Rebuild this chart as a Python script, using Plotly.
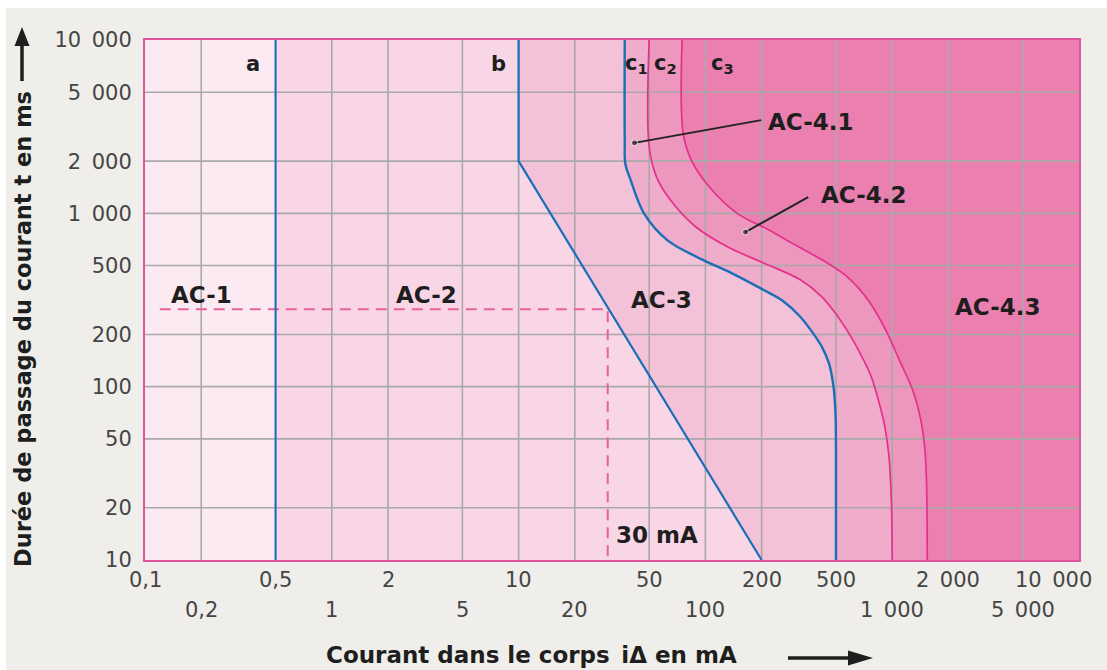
import numpy as np
import plotly.graph_objects as go

# ---- axis ticks -----------------------------------------------------------
x_ticks = [0.1, 0.2, 0.5, 1, 2, 5, 10, 20, 50, 100, 200, 500, 1000, 2000, 5000, 10000]
x_row1_vals = [0.1, 0.5, 2, 10, 50, 200, 500, 2000, 10000]
x_row1_text = ["0,1", "0,5", "2", "10", "50", "200", "500", "2\u2002000", "10\u2002000"]
x_row2_vals = [0.2, 1, 5, 20, 100, 1000, 5000]
x_row2_text = ["0,2", "1", "5", "20", "100", "1\u2002000", "5\u2002000"]
y_ticks = [10, 20, 50, 100, 200, 500, 1000, 2000, 5000, 10000]
y_text = ["10", "20", "50", "100", "200", "500", "1\u2002000", "2\u2002000", "5\u2002000", "10\u2002000"]

# ---- time/current curves (current in mA, duration in ms) ------------------
a_i = [0.5, 0.5]
a_t = [10, 10000]

b_i = [10, 10, 200]
b_t = [10000, 2000, 10]

c1_i = [37, 37, 37.3, 39.8, 46.8, 62.5, 92.5, 138, 205, 260, 320, 375, 421, 460, 485, 497, 500, 500]
c1_t = [10000, 2650, 1920, 1556, 1004, 701, 552, 452, 361, 312, 255, 205, 169, 135, 100, 70, 45, 10]

c2_i = [50, 50, 54.8, 65, 89, 132, 205, 324, 420, 510, 600, 690, 770, 840, 910, 960, 990, 1000]
c2_t = [10000, 2414, 1619, 1194, 834, 639, 517, 412, 330, 255, 195, 148, 115, 85, 60, 40, 22, 10]

c3_i = [75, 76, 84, 105, 148, 220, 300, 420, 560, 660, 760, 860, 948, 1100, 1290, 1420, 1500, 1530, 1540]
c3_t = [10000, 2900, 2030, 1420, 1000, 800, 660, 540, 440, 370, 305, 245, 200, 140, 95, 65, 42, 25, 10]

# 30 mA marker
i_30 = 30
t_30 = 280
i_dash_start = 0.12

# zone labels (current mA, duration ms)
zone_names = ["AC-1", "AC-2", "AC-3", "AC-4.3"]
zone_i = [0.2, 3.2, 58, 3700]
zone_t = [340, 340, 315, 290]

# ---- styling --------------------------------------------------------------
BG = "#f0eeea"
ZONE = {"AC-1": "#fbeaf2", "AC-2": "#f8d6e6", "AC-3": "#f3c2d9",
        "AC-4.1": "#f0accb", "AC-4.2": "#ed97bf", "AC-4.3": "#ea7fb0"}
BLUE = "#1b6fb6"
MAGENTA = "#e5308b"
BORDER = "#e0569c"
GRID = "#a9a9a9"
INK = "#1e1e1e"
TICK_FONT = dict(family="DejaVu Sans", size=21, color="#454545")
BOLD = dict(family="DejaVu Sans", size=23, color=INK, weight="bold")

X_MIN, X_MAX = 0.1, 10000
Y_MIN, Y_MAX = 10, 10000

W, H = 1107, 670
M_L, M_R, M_T, M_B = 145, 28, 40, 110
PW, PH = W - M_L - M_R, H - M_T - M_B


def px(xp):
    """figure pixel column -> paper x"""
    return (xp - M_L) / PW


def py(yp):
    """figure pixel row -> paper y"""
    return (H - M_B - yp) / PH


fig = go.Figure()

# zone AC-2 : right of curve a
fig.add_trace(go.Scatter(x=[a_i[0], a_i[0], X_MAX, X_MAX], y=[Y_MIN, Y_MAX, Y_MAX, Y_MIN],
                         fill="toself", fillcolor=ZONE["AC-2"], mode="lines",
                         line=dict(width=0), hoverinfo="skip", showlegend=False))
# zone AC-3 : right of curve b
fig.add_trace(go.Scatter(x=b_i + [X_MAX, X_MAX], y=b_t + [Y_MIN, Y_MAX],
                         fill="toself", fillcolor=ZONE["AC-3"], mode="lines",
                         line=dict(width=0), hoverinfo="skip", showlegend=False))

# zones AC-4.x : right of the smooth c-curves (filled towards the right edge)
for ci, ct, zone in [(c1_i, c1_t, "AC-4.1"), (c2_i, c2_t, "AC-4.2"), (c3_i, c3_t, "AC-4.3")]:
    fig.add_trace(go.Scatter(x=[X_MAX, X_MAX], y=[Y_MAX, Y_MIN], mode="lines",
                             line=dict(width=1, color="rgba(0,0,0,0)"),
                             hoverinfo="skip", showlegend=False))
    fig.add_trace(go.Scatter(x=ci, y=ct, mode="lines", fill="tonextx",
                             fillcolor=ZONE[zone],
                             line=dict(width=1, color="rgba(0,0,0,0)", shape="spline", smoothing=1),
                             hoverinfo="skip", showlegend=False))

# grid drawn over the coloured zones
gx, gy = [], []
for v in x_ticks[1:-1]:
    gx += [v, v, None]
    gy += [Y_MIN, Y_MAX, None]
for v in y_ticks[1:-1]:
    gx += [X_MIN, X_MAX, None]
    gy += [v, v, None]
fig.add_trace(go.Scatter(x=gx, y=gy, mode="lines", line=dict(color=GRID, width=1.6),
                         hoverinfo="skip", showlegend=False))

# 30 mA reference (dashed)
fig.add_trace(go.Scatter(x=[i_dash_start, i_30, i_30], y=[t_30, t_30, Y_MIN], mode="lines",
                         line=dict(color="#e8609f", width=2, dash="11px,7px"),
                         hoverinfo="skip", showlegend=False))

# boundary curves
fig.add_trace(go.Scatter(x=a_i, y=a_t, mode="lines", line=dict(color=BLUE, width=2),
                         showlegend=False))
fig.add_trace(go.Scatter(x=b_i, y=b_t, mode="lines", line=dict(color=BLUE, width=2.2),
                         showlegend=False))
fig.add_trace(go.Scatter(x=c1_i, y=c1_t, mode="lines",
                         line=dict(color=BLUE, width=2.4, shape="spline", smoothing=1),
                         showlegend=False))
fig.add_trace(go.Scatter(x=c2_i, y=c2_t, mode="lines",
                         line=dict(color=MAGENTA, width=1.7, shape="spline", smoothing=1),
                         showlegend=False))
fig.add_trace(go.Scatter(x=c3_i, y=c3_t, mode="lines",
                         line=dict(color=MAGENTA, width=1.7, shape="spline", smoothing=1),
                         showlegend=False))

# leader lines for AC-4.1 and AC-4.2
leaders = [([41.7, 199], [2550, 3450]), ([164, 355], [780, 1242])]
for lx, ly in leaders:
    fig.add_trace(go.Scatter(x=lx, y=ly, mode="lines+markers",
                             line=dict(color="#222222", width=2),
                             marker=dict(size=[6, 0], color="#222222"),
                             hoverinfo="skip", showlegend=False))

ann = []
lg = np.log10

# zone names
for name, zi, zt in zip(zone_names, zone_i, zone_t):
    ann.append(dict(x=lg(zi), y=lg(zt), xref="x", yref="y", text=name, showarrow=False,
                    font=BOLD))
ann.append(dict(x=lg(210), y=lg(3360), xref="x", yref="y", text="AC-4.1", showarrow=False,
                xanchor="left", font=BOLD))
ann.append(dict(x=lg(407), y=lg(1276), xref="x", yref="y", text="AC-4.2", showarrow=False,
                xanchor="left", font=BOLD))
ann.append(dict(x=lg(i_30), y=lg(14), xref="x", yref="y", text="30 mA", showarrow=False,
                xanchor="left", xshift=6, font=BOLD))

# curve letters
curve_letters = [("a", 0.38), ("b", 7.8), ("c<sub>1</sub>", 42.7),
                 ("c<sub>2</sub>", 60.8), ("c<sub>3</sub>", 124)]
for txt, xi in curve_letters:
    ann.append(dict(x=lg(xi), y=lg(7300), xref="x", yref="y", text=txt, showarrow=False,
                    font=dict(family="DejaVu Sans", size=21, color=INK, weight="bold")))

# x tick labels in two staggered rows
for j, (v, t) in enumerate(zip(x_row1_vals, x_row1_text)):
    last = j == len(x_row1_vals) - 1
    ann.append(dict(x=lg(v), y=py(580), xref="x", yref="paper", text=t, showarrow=False,
                    xanchor="right" if last else "center", xshift=15 if last else 0,
                    yanchor="middle", font=TICK_FONT))
for v, t in zip(x_row2_vals, x_row2_text):
    ann.append(dict(x=lg(v), y=py(610), xref="x", yref="paper", text=t, showarrow=False,
                    xanchor="center", yanchor="middle", font=TICK_FONT))

# axis titles
ann.append(dict(x=px(531), y=py(655), xref="paper", yref="paper",
                text="Courant dans le corps\u2002i\u0394 en mA", showarrow=False,
                yanchor="middle",
                font=dict(family="DejaVu Sans", size=23, color=INK, weight="bold")))
ann.append(dict(x=px(23), y=py(329), xref="paper", yref="paper",
                text="Durée de passage du courant t en ms", showarrow=False,
                textangle=-90, xanchor="center", yanchor="middle",
                font=dict(family="DejaVu Sans", size=22.5, color=INK, weight="bold")))

# direction arrows next to the axis titles (shaft + filled head)
arrow_line = dict(color=INK, width=3.5)
shapes = [
    # white frame strips around the figure
    dict(type="rect", xref="paper", yref="paper", x0=px(0), x1=px(6),
         y0=py(H), y1=py(0), fillcolor="white", line=dict(width=0), layer="below"),
    dict(type="rect", xref="paper", yref="paper", x0=px(0), x1=px(W),
         y0=py(8), y1=py(0), fillcolor="white", line=dict(width=0), layer="below"),
    # vertical arrow (time)
    dict(type="line", xref="paper", yref="paper", x0=px(22), x1=px(22),
         y0=py(81), y1=py(44), line=arrow_line),
    dict(type="path", xref="paper", yref="paper",
         path=f"M {px(22)},{py(27)} L {px(14.5)},{py(46)} L {px(29.5)},{py(46)} Z",
         fillcolor=INK, line=dict(width=0)),
    # horizontal arrow (current)
    dict(type="line", xref="paper", yref="paper", x0=px(788), x1=px(850),
         y0=py(658), y1=py(658), line=arrow_line),
    dict(type="path", xref="paper", yref="paper",
         path=f"M {px(873)},{py(658)} L {px(848)},{py(650.5)} L {px(848)},{py(665.5)} Z",
         fillcolor=INK, line=dict(width=0)),
]

fig.update_layout(
    width=W, height=H, autosize=False,
    margin=dict(l=M_L, r=M_R, t=M_T, b=M_B),
    paper_bgcolor=BG, plot_bgcolor=ZONE["AC-1"],
    annotations=ann, shapes=shapes,
    xaxis=dict(type="log", range=[lg(X_MIN), lg(X_MAX)], showgrid=False, zeroline=False,
               showticklabels=False, ticks="", showline=True, mirror=True,
               linecolor=BORDER, linewidth=2),
    yaxis=dict(type="log", range=[lg(Y_MIN), lg(Y_MAX)], showgrid=False, zeroline=False,
               tickvals=y_ticks, ticktext=y_text, tickfont=TICK_FONT, ticks="",
               ticklabelstandoff=7, showline=True, mirror=True,
               linecolor=BORDER, linewidth=2),
)

fig.write_html("out.html")
